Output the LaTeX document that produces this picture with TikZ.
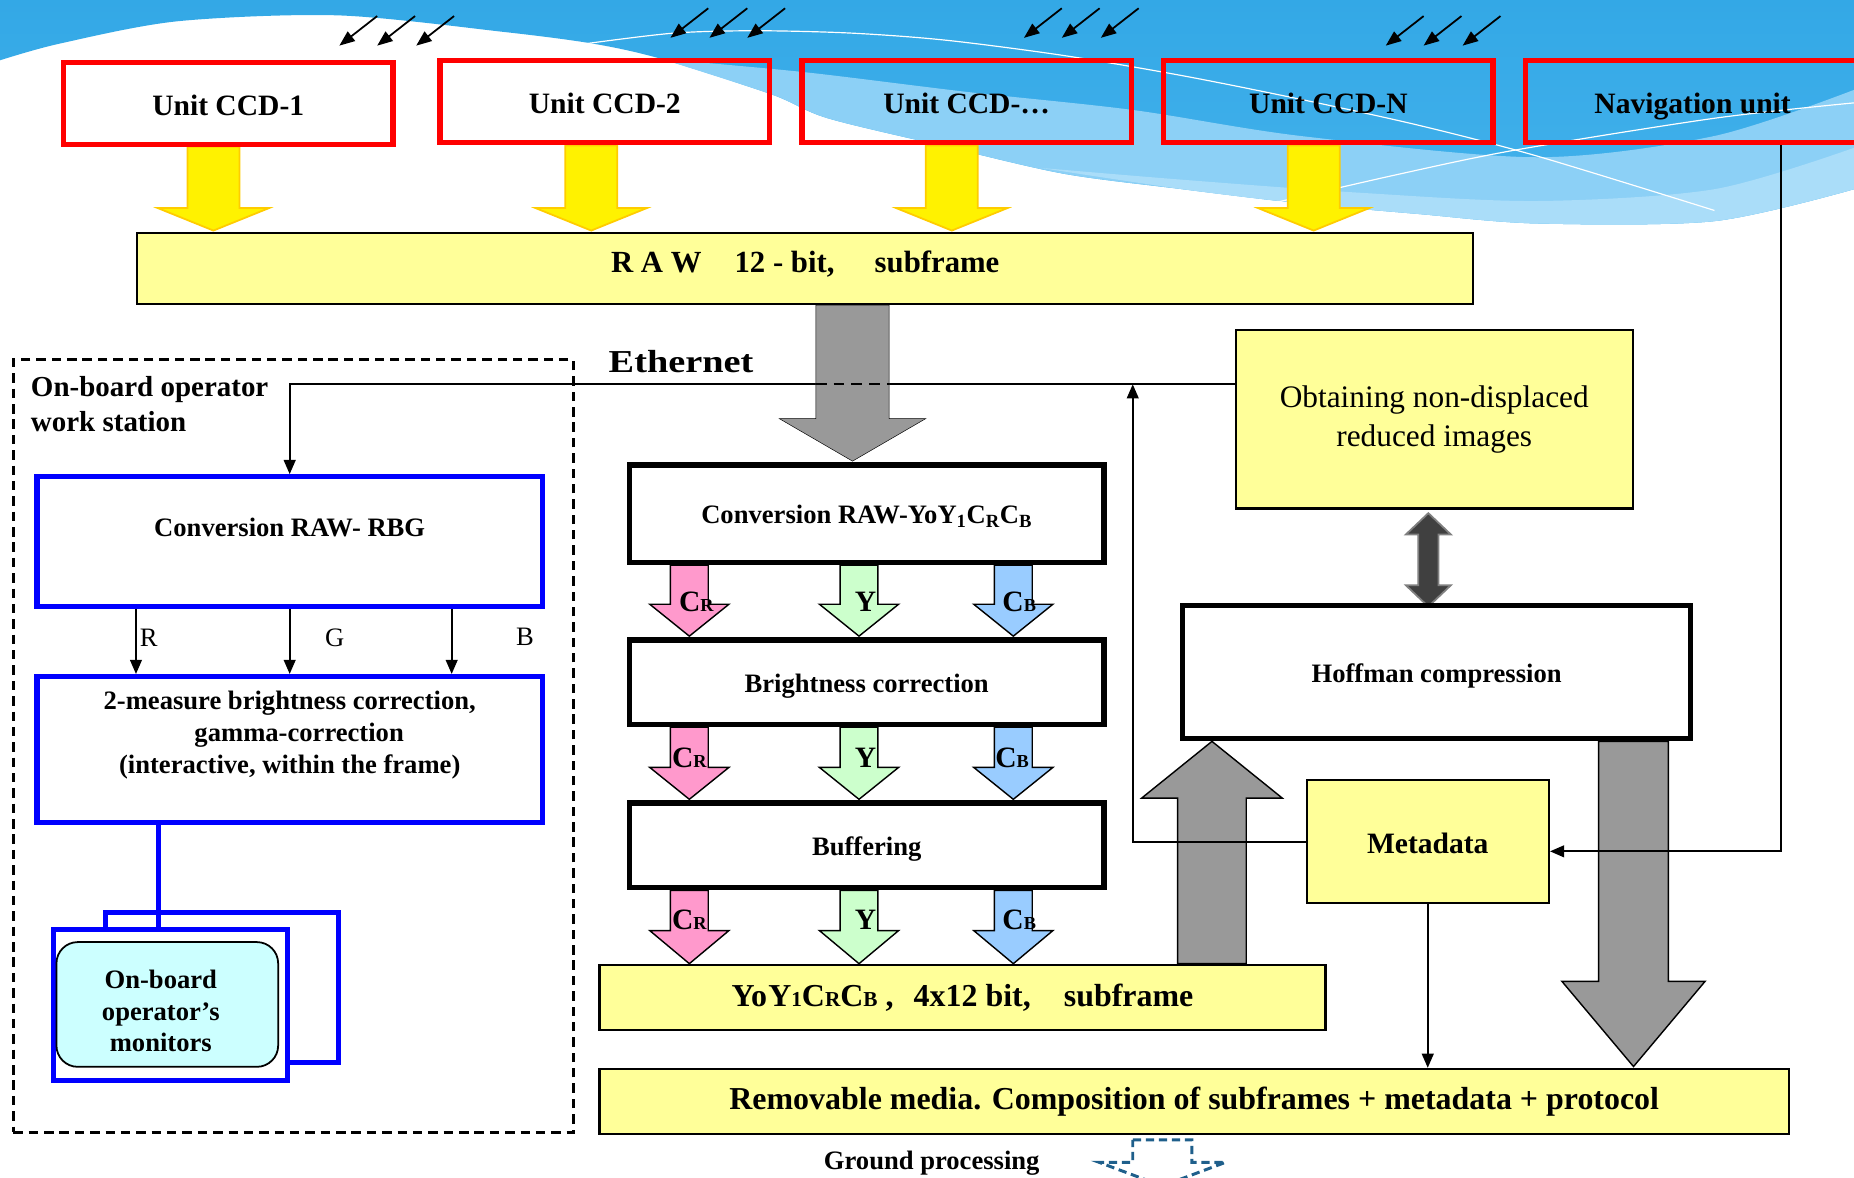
\documentclass[tikz,border=0pt]{standalone}
\usepackage{fontspec}
\setmainfont{Liberation Serif}
\usetikzlibrary{arrows.meta,calc}
\pgfdeclarelayer{bg}
\pgfsetlayers{bg,main}
\definecolor{skyTop}{HTML}{33A8E6}
\definecolor{skyA}{HTML}{44B2EC}
\definecolor{skyB}{HTML}{8CD0F6}
\definecolor{skyC}{HTML}{AADDF9}
\definecolor{paleY}{HTML}{FFFF99}
\definecolor{redB}{HTML}{FF0000}
\definecolor{blueB}{HTML}{0000FF}
\definecolor{grayA}{HTML}{999999}
\definecolor{darkA}{HTML}{404040}
\definecolor{grayE}{HTML}{808080}
\definecolor{pinkA}{HTML}{FF99CC}
\definecolor{greenA}{HTML}{CCFFCC}
\definecolor{blueA}{HTML}{99CCFF}
\definecolor{cyanA}{HTML}{CCFFFF}
\definecolor{yedge}{HTML}{FFCC00}
\definecolor{gpBlue}{HTML}{1F5F8B}
\newcommand\fsz[2]{\fontsize{#1pt}{#2pt}\selectfont}
\newcommand\blockarrow[7]{\draw[#1] (#2-#6,#3) -- (#2+#6,#3) -- (#2+#6,#4) -- (#2+#7,#4) -- (#2,#5) -- (#2-#7,#4) -- (#2-#6,#4) -- cycle;}
\newcommand\sCR{C{\fsz{15.5}{18}R}}
\newcommand\sCB{C{\fsz{15.5}{18}B}}
\tikzset{
  redbox/.style={draw=redB, line width=4.5pt, inner sep=0pt, minimum width=278.5pt, minimum height=69.5pt, font=\fsz{25}{30}\bfseries, text height=20pt, text depth=0pt},
  pale/.style={draw=black, line width=1.8pt, fill=paleY, inner sep=0pt},
  thickbox/.style={draw=black, line width=4.5pt, fill=white, inner sep=0pt},
  bluebox/.style={draw=blueB, line width=4.5pt, fill=white, inner sep=0pt},
  txt/.style={inner sep=0pt, font=\fsz{22.5}{27}\bfseries, align=center},
  oneline/.style={text height=17pt, text depth=0pt},
  rgblbl/.style={inner sep=0pt, font=\fsz{22.5}{27}},
  clbl/.style={inner sep=0pt, font=\fsz{25}{30}\bfseries},
  conn/.style={draw=black, line width=1.5pt, -{Triangle[length=12pt,width=10pt]}},
  plainline/.style={draw=black, line width=1.5pt},
  sunarr/.style={draw=black, line width=1.5pt, -{Triangle[length=13pt,width=10pt]}},
  yarr/.style={fill=yellow, draw=yedge, line width=1.5pt},
  etharr/.style={fill=grayA},
  grayarr/.style={fill=grayA, draw=black, line width=1.2pt},
  pinkarr/.style={fill=pinkA, draw=black, line width=1.2pt},
  greenarr/.style={fill=greenA, draw=black, line width=1.2pt},
  bluearr/.style={fill=blueA, draw=black, line width=1.2pt},
  dblarr/.style={fill=darkA, draw=grayE, line width=1.5pt},
  gparr/.style={fill=white, draw=gpBlue, line width=2.5pt, dash pattern=on 7pt off 4pt},
  wsbox/.style={draw=black, line width=2.5pt, dash pattern=on 8pt off 5pt, inner sep=0pt},
  monrect/.style={draw=blueB, line width=4pt, fill=white, inner sep=0pt},
  blueline/.style={draw=blueB, line width=4pt}
}
\begin{document}
\begin{tikzpicture}[x=1pt,y=-1pt]
\useasboundingbox (0,0) rectangle (1568,996);
\clip (0,0) rectangle (1568,996);

% ---------- nodes ----------
\node[redbox] (ccd1) at (193,87.5) {Unit CCD-1};
\node[redbox] (ccd2) at (511.5,86) {Unit CCD-2};
\node[redbox] (ccd3) at (817.5,86) {Unit CCD-…};
\node[redbox] (ccdn) at (1123.5,86) {Unit CCD-N};
\node[redbox, minimum width=282.5pt] (nav) at (1431.5,86) {Navigation unit};

\node[pale, line width=2pt, minimum width=1130pt, minimum height=60pt] (raw) at (681,227) {};
\node[txt, font=\fsz{26}{30}\bfseries] (rawt) at (681,223) {R A W\hspace{28pt}12 - bit,\hspace{34pt}subframe};

\node[inner sep=0pt, font=\fsz{27}{30}\bfseries] (eth) at (576,306) {\scalebox{1.2}[1]{Ethernet}};

\node[wsbox, minimum width=473.5pt, minimum height=653.5pt] (ws) at (248,631) {};
\node[anchor=north west, inner sep=0pt, align=left, font=\fsz{24.5}{29}\bfseries] (wslbl) at (26,318.5) {On-board operator\\work station};

\node[bluebox, minimum width=427.5pt, minimum height=109.5pt] (rbg) at (245,458) {};
\node[txt] (rbgt) at (245,446) {Conversion RAW- RBG};
\node[rgblbl, anchor=west] (lr) at (118,539) {R};
\node[rgblbl] (lg) at (283,539) {G};
\node[rgblbl] (lb) at (444,539) {B};

\node[bluebox, minimum width=427.5pt, minimum height=123.5pt] (bri2) at (245,634) {};
\node[txt] (bri2t) at (245,622) {2-measure brightness correction,\\\hspace*{16pt}gamma-correction\\(interactive, within the frame)};

\node[monrect, minimum width=197pt, minimum height=127pt] (monb) at (187.5,835) {};
\node[monrect, minimum width=198pt, minimum height=128pt] (monf) at (144,850) {};
\node[draw=black, line width=1.5pt, fill=cyanA, rounded corners=18pt, minimum width=187.5pt, minimum height=105.5pt, inner sep=0pt] (mon) at (141.5,849.5) {};
\node[txt] (mont) at (136,855) {On-board\\operator’s\\monitors};

\node[thickbox, minimum width=401.5pt, minimum height=82.5pt, txt, oneline] (conv) at (733,434.5) {Conversion RAW-YoY\textsubscript{1}C\textsubscript{R}C\textsubscript{B}};
\node[thickbox, minimum width=401.5pt, minimum height=71.5pt, txt, oneline] (bright) at (733,577) {Brightness correction};
\node[thickbox, minimum width=401.5pt, minimum height=71.5pt, txt, oneline] (buf) at (733,715) {Buffering};

\node[pale, minimum width=614pt, minimum height=55pt, font=\fsz{27}{32}\bfseries] (yoy) at (814,843.5) {Yo\kern1ptY{\fsz{18}{20}1}C{\fsz{18}{20}R}C{\fsz{18}{20}B} ,\hspace{17pt}4x12 bit,\hspace{28pt}subframe};
\node[pale, minimum width=1006pt, minimum height=55pt, font=\fsz{27}{32}\bfseries] (rem) at (1010,931.5) {Removable media. Composition of subframes + metadata + protocol};
\node[txt] (gp) at (788,984) {Ground processing};

\node[pale, minimum width=336pt, minimum height=151pt, font=\fsz{26.5}{33}, align=center] (obt) at (1213,354.5) {Obtaining non-displaced\\reduced images};
\node[thickbox, minimum width=429.5pt, minimum height=112.5pt, txt, oneline] (hof) at (1215,568.5) {Hoffman compression};
\node[pale, minimum width=205pt, minimum height=104pt, font=\fsz{25}{30}\bfseries, text height=19pt, text depth=0pt] (meta) at (1207.5,712) {Metadata};

\coordinate (e1) at ($(obt.west)+(0,-29.5)$);
\coordinate (e2) at (958,325);
\coordinate (n1) at ([xshift=74.5pt]nav.south);

% ---------- background layer ----------
\begin{pgfonlayer}{bg}
  % sky
  \shade[top color=skyTop, bottom color=skyA] (0,0) -- (1568,0) -- (1568,160) -- plot[smooth] coordinates {(1568,160) (1450,187) (1300,189) (1200,181) (1100,172) (1000,160) (900,147) (800,124) (700,100) (653,80) (560,50) (502,37) (426,27) (286,13) (150,18) (50,37) (0,51)} -- cycle;
  \fill[skyB] plot[smooth] coordinates {(560,50) (680,61) (820,78) (958,93) (1100,115) (1300,133) (1450,115) (1568,76)} -- (1568,160) -- plot[smooth] coordinates {(1568,160) (1450,187) (1300,189) (1200,181) (1100,172) (1000,160) (900,147) (800,124) (700,100) (653,80) (560,50)} -- cycle;
  \fill[skyC] plot[smooth] coordinates {(880,142) (1000,152) (1150,163) (1300,170) (1450,160) (1568,125)} -- (1568,160) -- plot[smooth] coordinates {(1568,160) (1450,187) (1300,189) (1200,181) (1100,172) (1000,160) (880,142)} -- cycle;
  \draw[white, line width=1pt] plot[smooth] coordinates {(495,37) (570,28) (640,26) (720,28) (800,34) (900,47) (1000,64) (1100,84) (1200,106) (1300,132) (1450,178)};
  \draw[white, line width=1pt] plot[smooth] coordinates {(1080,171) (1180,148) (1281,127) (1450,100) (1568,87)};
  % incoming light arrows
  \foreach \tx/\ty in {287/38.6, 319/38.6, 352/38.6, 567/32, 600/32, 632/32, 866/32, 898/32, 931/32, 1172/38.6, 1204/38.6, 1237/38.6}
    \draw[sunarr] (\tx+32,\ty-25) -- (\tx,\ty);
  % yellow arrows
  \blockarrow{yarr}{180.5}{124}{176}{195}{22}{47}
  \blockarrow{yarr}{500}{123}{176}{195}{22}{47}
  \blockarrow{yarr}{805}{123}{176}{195}{22}{47}
  \blockarrow{yarr}{1111}{123}{176}{195}{22}{47}
  % line to work station (under ethernet arrow)
  \draw[conn] (e1) -| (rbg.north);
  % ethernet arrow
  \blockarrow{etharr}{721}{258}{354}{390}{31}{62}
  % colour channel arrows
  \foreach \ya/\yb/\yc in {478/511/538, 615/649/676, 753/787/815} {
    \blockarrow{pinkarr}{583}{\ya}{\yb}{\yc}{16}{33.5}
    \blockarrow{greenarr}{726.5}{\ya}{\yb}{\yc}{16}{33.5}
    \blockarrow{bluearr}{857}{\ya}{\yb}{\yc}{16}{33.5}
  }
  % gray arrows
  \blockarrow{grayarr}{1025}{815}{675}{627}{29}{59.5}
  \blockarrow{grayarr}{1381.5}{627}{830}{902}{29.5}{60.5}
  % double arrow
  \draw[dblarr] (1208,434) -- (1227,452) -- (1216.5,452) -- (1216.5,495) -- (1227,495) -- (1208,513) -- (1189,495) -- (1199.5,495) -- (1199.5,452) -- (1189,452) -- cycle;
  % ground processing arrow
  \blockarrow{gparr}{983}{964}{983}{1003}{25}{53.5}
\end{pgfonlayer}

% ---------- connectors on top ----------
\draw[plainline, dash pattern=on 9pt off 6pt] (690,325) -- (752,325);
\draw[conn] (meta.west) -| (e2);
\draw[conn] (n1) |- ([yshift=-8pt]meta.east);
\draw[conn] (meta.south) -- (meta.south |- rem.north);
\draw[conn] ([xshift=-130pt]rbg.south) -- ([xshift=-130pt]bri2.north);
\draw[conn] (rbg.south) -- (bri2.north);
\draw[conn] ([xshift=137pt]rbg.south) -- ([xshift=137pt]bri2.north);
\draw[blueline] ([xshift=-111pt]bri2.south) -- ([xshift=-10pt]monf.north);

% channel labels
\node[clbl] (c1r) at (589,509) {\sCR};
\node[clbl] (c1y) at (732,509) {Y};
\node[clbl] (c1b) at (862,509) {\sCB};
\node[clbl] (c2r) at (583,641) {\sCR};
\node[clbl] (c2y) at (732,641) {Y};
\node[clbl] (c2b) at (856,641) {\sCB};
\node[clbl] (c3r) at (583,778) {\sCR};
\node[clbl] (c3y) at (732,778) {Y};
\node[clbl] (c3b) at (862,778) {\sCB};
\end{tikzpicture}
\end{document}
